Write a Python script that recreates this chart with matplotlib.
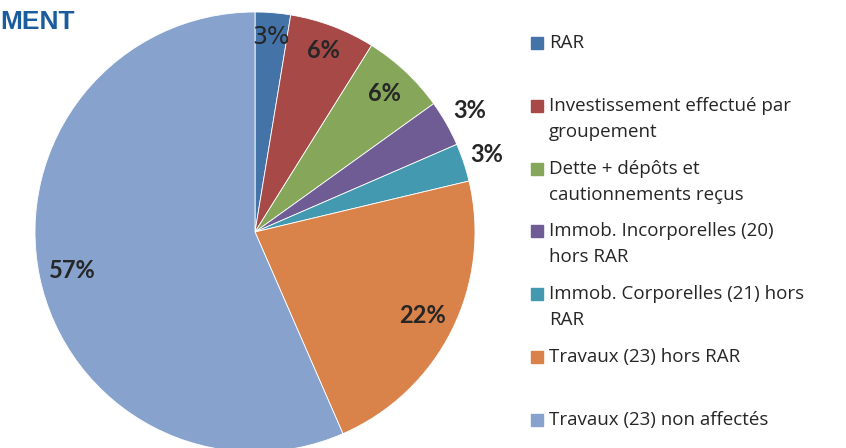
import numpy as np
import matplotlib.pyplot as plt
from matplotlib.patches import Rectangle

labels = ['RAR',
          'Investissement effectué par\ngroupement',
          'Dette + dépôts et\ncautionnements reçus',
          'Immob. Incorporelles (20)\nhors RAR',
          'Immob. Corporelles (21) hors\nRAR',
          'Travaux (23) hors RAR',
          'Travaux (23) non affectés']
values = [2.6, 6.3, 6.2, 3.4, 2.8, 22.2, 56.6]
colors = ['#4473A8', '#A74A47', '#86A65A', '#705C95', '#439AB0', '#D9834A', '#87A2CC']

# label radius (fraction of pie radius) and weight per slice
lab_r = [0.89, 0.88, 0.86, 1.12, 1.11, 0.85, 0.85]
lab_bold = [False, True, True, True, True, True, True]

W, H = 846, 448
fig = plt.figure(figsize=(W / 100, H / 100), dpi=100)

# pie centre ~ (255, 232) px, radius ~ 220 px
cx, cy, R = 255, 232, 220
ax = fig.add_axes([(cx - R) / W, (H - cy - R) / H, 2 * R / W, 2 * R / H])
wedges, _ = ax.pie(values, colors=colors, startangle=90, counterclock=False,
                   radius=1, wedgeprops=dict(edgecolor='white', linewidth=0.6))
ax.set_xlim(-1, 1)
ax.set_ylim(-1, 1)
ax.set_aspect('equal')
ax.axis('off')

total = sum(values)
cum = 0
for i, v in enumerate(values):
    mid = 90 - 360 * (cum + v / 2) / total
    cum += v
    x = lab_r[i] * np.cos(np.radians(mid))
    y = lab_r[i] * np.sin(np.radians(mid))
    pct = '{:.0f}%'.format(100 * v / total)
    if lab_bold[i]:
        ax.text(x, y, pct, ha='center', va='center', fontsize=17,
                fontweight='bold', family='Lato', color='#262626')
    else:
        ax.text(x, y, pct, ha='center', va='center', fontsize=17,
                family='Liberation Sans Narrow', color='#262626')

# title fragment
fig.text(0, 1 - 22 / H, 'MENT', ha='left', va='center', fontsize=19,
         fontweight='bold', family='Liberation Sans', color='#1A5C9E')

# legend, drawn by hand to mimic Excel spacing
y0, step, line = 43, 62.8, 26
for i, lab in enumerate(labels):
    ytop = y0 + i * step
    fig.patches.append(Rectangle((531 / W, 1 - (ytop + 6) / H), 12 / W, 12 / H,
                                 transform=fig.transFigure, color=colors[i]))
    for j, part in enumerate(lab.split('\n')):
        fig.text(549 / W, 1 - (ytop + j * line) / H, part, ha='left', va='center',
                 fontsize=13.5, family='Open Sans', color='#262626')

fig.savefig('out.png', dpi=100)
